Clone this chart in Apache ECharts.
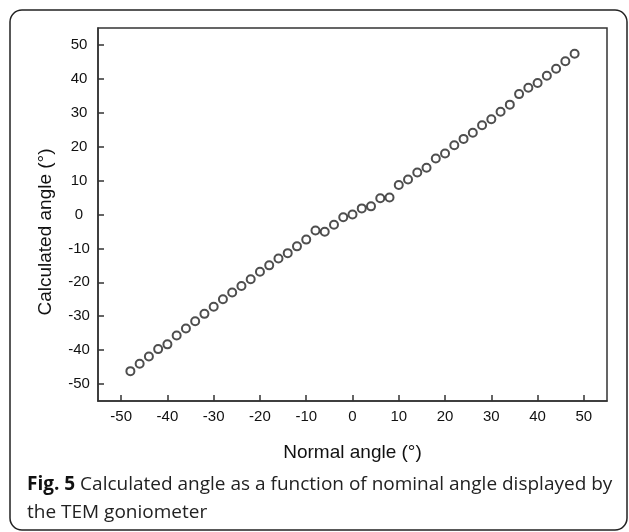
<!DOCTYPE html>
<html>
<head>
<meta charset="utf-8">
<script src="https://cdn.jsdelivr.net/npm/echarts@6/dist/echarts.min.js"></script>
<style>
  html, body { margin: 0; padding: 0; background: #fff; }
  #chart { width: 629px; height: 532px; }
</style>
</head>
<body>
<div id="chart"></div>
<script>
// nominal angle (x) and calculated angle (y)
var nominalAngle = [
  -48, -46, -44, -42, -40, -38, -36, -34, -32, -30,
  -28, -26, -24, -22, -20, -18, -16, -14, -12, -10,
  -8, -6, -4, -2, 0, 2, 4, 6, 8, 10,
  12, 14, 16, 18, 20, 22, 24, 26, 28, 30,
  32, 34, 36, 38, 40, 42, 44, 46, 48
]
var calculatedAngle = [
  -46.2, -44.0, -41.9, -39.7, -38.3, -35.7, -33.6, -31.5, -29.3, -27.2,
  -25.0, -23.0, -21.1, -19.1, -16.9, -15.0, -13.0, -11.4, -9.4, -7.4,
  -4.7, -5.1, -3.0, -0.8, 0.0, 1.8, 2.4, 4.8, 5.0, 8.7,
  10.3, 12.4, 13.8, 16.5, 18.0, 20.4, 22.3, 24.1, 26.3, 28.1,
  30.3, 32.4, 35.5, 37.4, 38.8, 40.9, 43.0, 45.2, 47.4
]
var tickValues = [-50, -40, -30, -20, -10, 0, 10, 20, 30, 40, 50]

var points = nominalAngle.map(function (x, i) {
  return [x, calculatedAngle[i]]
})

var axisFont = 'Liberation Sans, Arial, sans-serif'

function makeAxis(name, gap, extra) {
  var axis = {
    type: 'value',
    min: -55,
    max: 55,
    name: name,
    nameLocation: 'middle',
    nameGap: gap,
    nameTextStyle: { fontFamily: axisFont, fontSize: 19, color: '#111' },
    axisLine: { show: true, onZero: false, lineStyle: { color: '#333', width: 1.5 } },
    axisTick: {
      show: true,
      inside: true,
      length: 6,
      customValues: tickValues,
      lineStyle: { color: '#333', width: 1.5 }
    },
    axisLabel: {
      customValues: tickValues,
      fontFamily: axisFont,
      fontSize: 15,
      color: '#111',
      margin: 8
    },
    splitLine: { show: false }
  }
  if (extra) extra(axis)
  return axis
}

var chart = echarts.init(document.getElementById('chart'), null, { renderer: 'canvas' })

chart.setOption({
  animation: false,
  backgroundColor: '#fff',
  grid: {
    left: 98,
    right: 22,
    top: 28,
    bottom: 131,
    show: true,
    borderColor: '#333',
    borderWidth: 1.5
  },
  xAxis: makeAxis('Normal angle (°)', 42),
  yAxis: makeAxis('Calculated angle (°)', 43, function (axis) {
    // labels are centred under each other, name sits a bit low
    axis.axisLabel.align = 'center'
    axis.axisLabel.margin = 19
    axis.nameTextStyle.padding = [0, 35, 0, 0]
  }),
  series: [{
    type: 'scatter',
    data: points,
    symbol: 'emptyCircle',
    symbolSize: 8,
    itemStyle: { color: '#222', borderColor: '#222', borderWidth: 1.3 }
  }],
  graphic: [
    {
      type: 'rect',
      shape: { x: 10, y: 10, width: 617, height: 520, r: 12 },
      style: { fill: 'none', stroke: '#222', lineWidth: 1.5 }
    },
    {
      type: 'text',
      left: 27,
      top: 471,
      style: {
        text: '{b|Fig. 5} Calculated angle as a function of nominal angle displayed by\nthe TEM goniometer',
        fontFamily: 'Open Sans, sans-serif',
        fontSize: 19,
        lineHeight: 28,
        fill: '#222',
        rich: {
          b: { fontWeight: 'bold', fontFamily: 'Open Sans, sans-serif', fontSize: 19, fill: '#111' }
        }
      }
    }
  ]
})
</script>
</body>
</html>
